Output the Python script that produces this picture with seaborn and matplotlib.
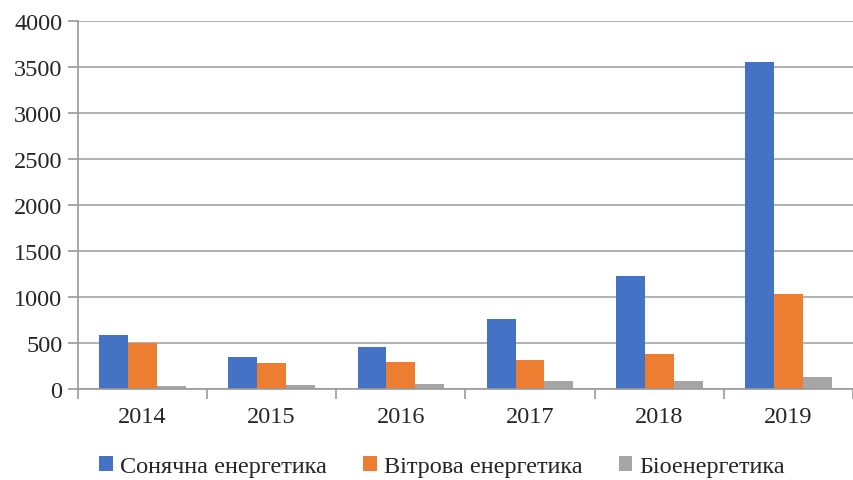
import matplotlib
matplotlib.use("Agg")
import matplotlib.pyplot as plt
import numpy as np
import pandas as pd
import seaborn as sns

# data
years = ['2014', '2015', '2016', '2017', '2018', '2019']
series = ['Сонячна енергетика', 'Вітрова енергетика', 'Біоенергетика']
solar = [584, 354, 453, 761, 1227, 3555]
wind = [503, 289, 296, 321, 383, 1033]
bio = [30, 48, 55, 91, 91, 135]
colors = ['#4472C4', '#ED7D31', '#A5A5A5']

df = pd.DataFrame({
    'year': years * 3,
    'series': [series[0]] * 6 + [series[1]] * 6 + [series[2]] * 6,
    'value': solar + wind + bio,
})

sns.set_theme(style='white')
plt.rcParams['font.family'] = ['Liberation Serif', 'DejaVu Serif']

fig = plt.figure(figsize=(8.54, 4.81), dpi=100)
ax = fig.add_axes([0.091, 0.189, 0.908, 0.765])

sns.barplot(data=df, x='year', y='value', hue='series', hue_order=series,
            palette=colors, width=0.67, gap=0, linewidth=0, saturation=1,
            ax=ax, legend=True)

ax.set_ylim(0, 4000)
ax.set_xlim(-0.5, len(years) - 0.5)
ax.set_yticks(np.arange(0, 4001, 500))
ax.yaxis.grid(True, color='#ababab', linewidth=1.3)
ax.set_axisbelow(True)
ax.set_xlabel('')
ax.set_ylabel('')

for s in ['top', 'right']:
    ax.spines[s].set_visible(False)
for s in ['left', 'bottom']:
    ax.spines[s].set_color('#9a9a9a')
    ax.spines[s].set_linewidth(1.2)

ax.tick_params(axis='y', which='major', length=7, width=1.2, color='#9a9a9a',
               direction='out', labelsize=17.5, left=True, pad=4)
ax.tick_params(axis='x', which='major', length=0, labelsize=17.5, pad=12)
ax.set_xticks(np.arange(-0.5, len(years), 1), minor=True)
ax.tick_params(axis='x', which='minor', length=7, width=1.2, color='#9a9a9a',
               direction='out', bottom=True)

handles, labels = ax.get_legend_handles_labels()
ax.legend_.remove()
fig.legend(handles, labels, loc='lower center', bbox_to_anchor=(0.518, -0.04),
           ncol=3, frameon=False, fontsize=17.5, handlelength=0.55,
           handleheight=0.55, handletextpad=0.3, columnspacing=1.5)

fig.savefig('out.png', dpi=100)
plt.close(fig)
